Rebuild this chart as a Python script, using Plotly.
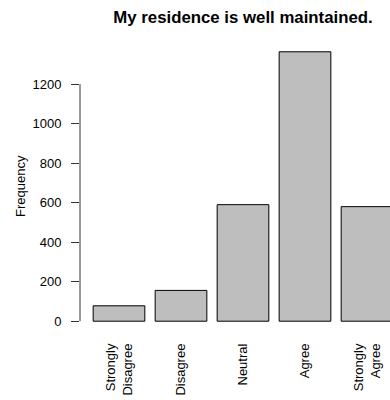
import plotly.graph_objects as go

categories = ["Strongly<br>Disagree", "Disagree", "Neutral", "Agree", "Strongly<br>Agree"]
frequencies = [78, 156, 590, 1364, 580]
y_ticks = [0, 200, 400, 600, 800, 1000, 1200]
title_text = "My residence is well maintained."
y_label = "Frequency"

FONT = "Liberation Sans, Arial, Helvetica, sans-serif"
FS = 13

fig = go.Figure()
fig.add_trace(go.Bar(
    x=categories,
    y=frequencies,
    width=1 / 1.2,
    marker=dict(color="#BEBEBE", line=dict(color="#000000", width=1)),
    showlegend=False,
    hoverinfo="skip",
))

fig.update_layout(
    width=390,
    height=400,
    margin=dict(l=80, r=0, t=41, b=68, autoexpand=False),
    paper_bgcolor="white",
    plot_bgcolor="white",
    font=dict(family=FONT, size=FS, color="black"),
    title=dict(
        text="<b>" + title_text + "</b>",
        x=243 / 390,
        xref="container",
        xanchor="center",
        y=1 - 17 / 400,
        yref="container",
        yanchor="middle",
        font=dict(family=FONT, size=16.8, color="black"),
    ),
    xaxis=dict(
        type="category",
        range=[-0.629, 4.371],
        showgrid=False,
        showline=False,
        zeroline=False,
        ticks="",
        tickangle=-90,
        ticklabelstandoff=8,
        tickfont=dict(family=FONT, size=FS, color="black"),
        automargin=False,
    ),
    yaxis=dict(
        range=[-54.6, 1418.6],
        tickvals=y_ticks,
        ticktext=[str(v) for v in y_ticks],
        showgrid=False,
        showline=False,
        zeroline=False,
        ticks="outside",
        ticklen=8,
        tickwidth=1,
        tickcolor="#333333",
        ticklabelstandoff=7,
        tickfont=dict(family=FONT, size=FS, color="black"),
        automargin=False,
    ),
    shapes=[dict(
        type="line", xref="paper", yref="y",
        x0=0, x1=0, y0=y_ticks[0], y1=y_ticks[-1],
        line=dict(color="#333333", width=1),
    )],
    annotations=[dict(
        text=y_label, xref="paper", yref="paper",
        x=(20 - 80) / 310, y=(400 - 68 - 186) / 291,
        xanchor="center", yanchor="middle", textangle=-90,
        showarrow=False, font=dict(family=FONT, size=FS, color="black"),
    )],
)

fig.write_html("out.html", config={"displayModeBar": False})

# remove the default page margin so the figure sits at the window's top-left corner
with open("out.html", "r", encoding="utf-8") as f:
    html = f.read()
html = html.replace("<head>", "<head><style>html,body{margin:0;padding:0;overflow:hidden;}</style>", 1)
with open("out.html", "w", encoding="utf-8") as f:
    f.write(html)
